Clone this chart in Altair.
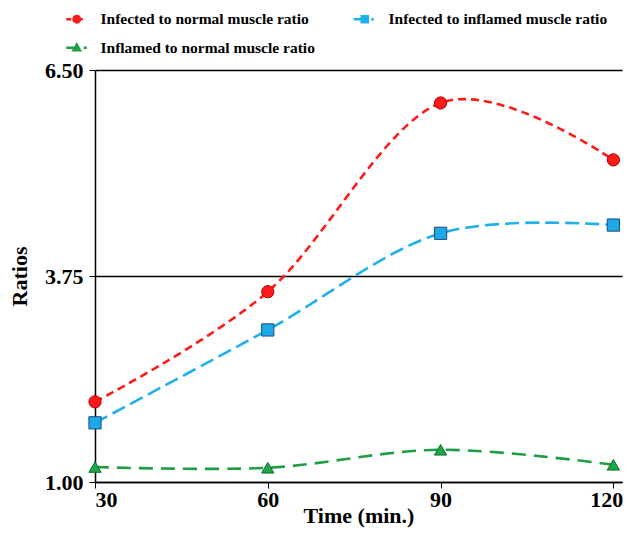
import altair as alt
import pandas as pd

times = [30, 60, 90, 120]
series_names = [
    "Infected to normal muscle ratio",
    "Infected to inflamed muscle ratio",
    "Inflamed to normal muscle ratio",
]
infected_normal = [2.07, 3.54, 6.06, 5.30]
infected_inflamed = [1.79, 3.03, 4.32, 4.43]
inflamed_normal = [1.20, 1.19, 1.43, 1.23]
y_ticks = [1.00, 3.75, 6.50]

line_colors = ["#ff1a1a", "#1fb0ec", "#1f9e45"]
edge_colors = ["#b00000", "#1a4f86", "#0f6a2a"]
dashes = [[8, 5], [14, 6], [14, 8]]
shapes = ["circle", "square", "triangle-up"]
legend_paths = [
    "M-2.1,0H-1.1M-0.65,0A0.65,0.65 0 1,1 0.65,0A0.65,0.65 0 1,1 -0.65,0ZM0.65,0H1.2",
    "M-2.2,0H-0.6M-0.6,-0.6H0.6V0.6H-0.6ZM1.3,0H1.8",
    "M-2.1,0H-0.5M0,-0.65L0.65,0.5H-0.65ZM1.4,0H2.0",
]

rows = []
for name, vals in zip(series_names, [infected_normal, infected_inflamed, inflamed_normal]):
    for t, v in zip(times, vals):
        rows.append({"series": name, "time": t, "ratio": v})
df = pd.DataFrame(rows)

font = "Liberation Serif"

x = alt.X(
    "time:Q",
    scale=alt.Scale(domain=[30, 121.5], nice=False, zero=False),
    axis=alt.Axis(
        values=times, grid=False, title="Time (min.)", format="d",
        domainColor="black", tickColor="black", tickSize=6, domainWidth=1.5,
        labelPadding=1, titleBaseline="bottom", titleY=45,
        labelOffset=alt.expr("datum.value == 120 ? -7 : 0"),
    ),
)
y = alt.Y(
    "ratio:Q",
    scale=alt.Scale(domain=[1, 6.5], nice=False, zero=False),
    axis=alt.Axis(
        values=y_ticks, format=".2f", grid=True, gridColor="black", gridWidth=1.3,
        domainColor="black", tickColor="black", tickSize=6, domainWidth=1.5,
        title="Ratios", titlePadding=13, labelPadding=6,
    ),
)

base = alt.Chart(df)

lines = base.mark_line(interpolate="cardinal", strokeWidth=2.6).encode(
    x=x, y=y,
    color=alt.Color("series:N", scale=alt.Scale(domain=series_names, range=line_colors), legend=None),
    strokeDash=alt.StrokeDash("series:N", scale=alt.Scale(domain=series_names, range=dashes), legend=None),
)

points = base.mark_point(filled=True, opacity=1, strokeWidth=1).encode(
    x=x, y=y,
    fill=alt.Fill("series:N", scale=alt.Scale(domain=series_names, range=["#ff1a1a", "#1fa8e6", "#1fa64a"]), legend=None),
    stroke=alt.Stroke("series:N", scale=alt.Scale(domain=series_names, range=edge_colors), legend=None),
    shape=alt.Shape("series:N", scale=alt.Scale(domain=series_names, range=shapes), legend=None),
    size=alt.value(150),
)

leg = dict(
    title=None, orient="none", legendX=-26, legendY=-59, columns=2, direction="horizontal",
    columnPadding=33, rowPadding=11, labelFont=font, labelFontSize=15.5, labelFontWeight="bold",
    labelColor="black", symbolSize=100, symbolStrokeWidth=2.5, labelOffset=16,
    labelLimit=400,
)

legend_layer = base.mark_point(filled=True, opacity=1, clip=True, yOffset=5000).encode(
    x=x, y=y,
    fill=alt.Fill("series:N", scale=alt.Scale(domain=series_names, range=line_colors), legend=alt.Legend(**leg)),
    stroke=alt.Stroke("series:N", scale=alt.Scale(domain=series_names, range=line_colors), legend=alt.Legend(**leg)),
    shape=alt.Shape("series:N", scale=alt.Scale(domain=series_names, range=legend_paths), legend=alt.Legend(**leg)),
)

chart = (
    alt.layer(lines, points, legend_layer)
    .resolve_scale(fill="independent", stroke="independent", shape="independent")
    .properties(
        width=527, height=412,
        autosize=alt.AutoSizeParams(type="none"),
        padding={"left": 87, "top": 62, "right": 2, "bottom": 47},
    )
    .configure_view(stroke=None)
    .configure_axis(
        labelFont=font, labelFontSize=22, labelFontWeight="bold", labelColor="black",
        titleFont=font, titleFontSize=22, titleFontWeight="bold", titleColor="black",
    )
)

chart.save("out.html", embed_options={"renderer": "svg", "actions": False})
